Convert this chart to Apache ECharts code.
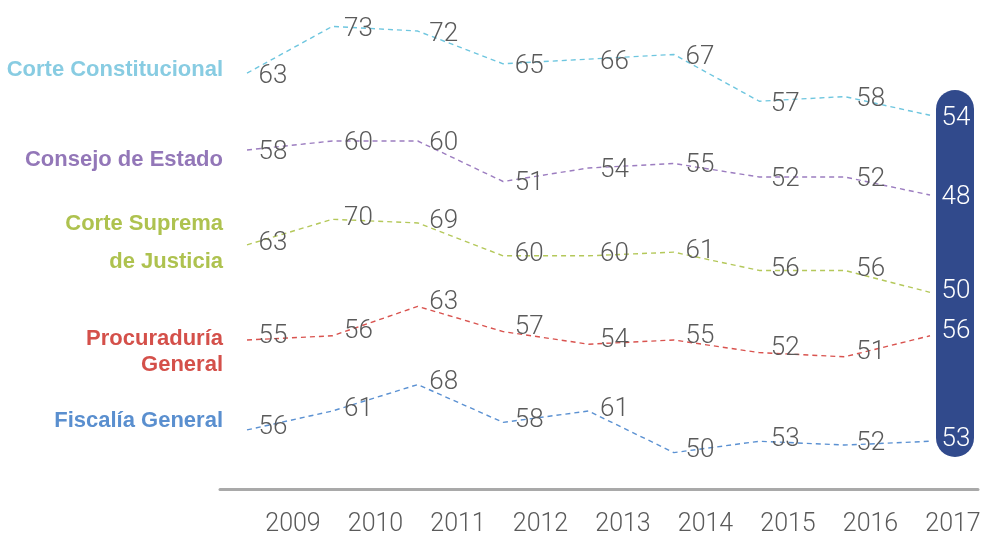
<!DOCTYPE html>
<html>
<head>
<meta charset="utf-8">
<style>
  html, body { margin: 0; padding: 0; background: #fff; }
  #chart { width: 985px; height: 534px; }
</style>
<script src="https://cdn.jsdelivr.net/npm/echarts@6/dist/echarts.min.js"></script>
</head>
<body>
<div id="chart"></div>
<script>
// 年份
const years = ['2009', '2010', '2011', '2012', '2013', '2014', '2015', '2016', '2017'];

// 各机构的数值
const corteConstitucional = [63, 73, 72, 65, 66, 67, 57, 58, 54];
const consejoEstado = [58, 60, 60, 51, 54, 55, 52, 52, 48];
const corteSuprema = [63, 70, 69, 60, 60, 61, 56, 56, 50];
const procuraduria = [55, 56, 63, 57, 54, 55, 52, 51, 56];
const fiscalia = [56, 61, 68, 58, 61, 50, 53, 52, 53];

const seriesNames = ['Corte Constitucional', 'Consejo de Estado', 'Corte Suprema de Justicia', 'Procuraduría General', 'Fiscalía General'];
const seriesLabelLines = [['Corte Constitucional'], ['Consejo de Estado'], ['Corte Suprema', 'de Justicia'], ['Procuraduría', 'General'], ['Fiscalía General']];
const seriesData = [corteConstitucional, consejoEstado, corteSuprema, procuraduria, fiscalia];

// 样式
const lineColors = ['#6ec6df', '#9c7dc0', '#b4c85a', '#d9534f', '#5b91d2'];
const textColors = ['#88cce2', '#9377b8', '#aec24f', '#d4504a', '#5a8fcf'];
// 每条线单独一个 grid：top, height, y 轴 min / max
const bands = [
    { top: 17, height: 117, min: 50, max: 75, dy: 3 },
    { top: 132, height: 76.5, min: 45, max: 62, dy: 2 },
    { top: 212, height: 98.6, min: 45, max: 72, dy: -1 },
    { top: 298, height: 71.4, min: 48, max: 65, dy: -4 },
    { top: 377, height: 94.5, min: 45, max: 70, dy: -2 }
];
const labelY = [[70], [160], [224, 262], [339, 365], [421]];

const numFont = "'Roboto', sans-serif";

const chart = echarts.init(document.getElementById('chart'));

const grids = bands.map(b => ({ left: 247, right: 55, top: b.top, height: b.height }));
// 底部轴线和年份标签
grids.push({ left: 220, right: 7, top: 488, height: 1 });
grids.push({ left: 293, right: 32, top: 490, height: 1 });

const xAxes = grids.map((g, i) => {
    const base = { type: 'category', data: years, gridIndex: i, boundaryGap: false };
    if (i < 5) return Object.assign(base, { show: false });
    if (i === 5) {
        return Object.assign(base, {
            axisLine: { lineStyle: { color: '#a9a9a9', width: 3 } },
            axisTick: { show: false },
            axisLabel: { show: false }
        });
    }
    return Object.assign(base, {
        axisLine: { show: false },
        axisTick: { show: false },
        axisLabel: { color: '#5a5a5a', fontFamily: numFont, fontWeight: 300, fontSize: 25, margin: 22 }
    });
});

const yAxes = grids.map((g, i) => {
    const ax = { type: 'value', gridIndex: i, show: false };
    if (i < 5) { ax.min = bands[i].min; ax.max = bands[i].max; }
    return ax;
});

const series = seriesData.map((vals, i) => ({
    name: seriesNames[i],
    type: 'line',
    xAxisIndex: i,
    yAxisIndex: i,
    symbol: 'circle',
    symbolSize: 1,
    itemStyle: { color: 'rgba(0,0,0,0)' },
    lineStyle: { color: lineColors[i], width: 1.4, type: [5, 4] },
    label: {
        show: true,
        position: 'inside',
        offset: [26, bands[i].dy],
        color: '#5a5a5a',
        fontFamily: numFont,
        fontWeight: 300,
        fontSize: 26
    },
    data: vals.map((v, k) => k === vals.length - 1 ? { value: v, label: { color: '#ffffff' } } : v),
    silent: true,
    animation: false
}));

const graphics = [{
    type: 'rect',
    z: 0,
    shape: { x: 936, y: 90, width: 38, height: 367, r: 19 },
    style: { fill: '#314a8c' }
}];
seriesLabelLines.forEach((lines, i) => {
    lines.forEach((t, j) => {
        graphics.push({
            type: 'text',
            x: 223,
            y: labelY[i][j],
            style: {
                text: t,
                fill: textColors[i],
                font: "bold 22px 'Liberation Sans', sans-serif",
                align: 'right',
                textAlign: 'right',
                verticalAlign: 'middle',
                textVerticalAlign: 'middle'
            }
        });
    });
});

chart.setOption({
    animation: false,
    grid: grids,
    xAxis: xAxes,
    yAxis: yAxes,
    series: series,
    graphic: graphics
});
</script>
</body>
</html>
